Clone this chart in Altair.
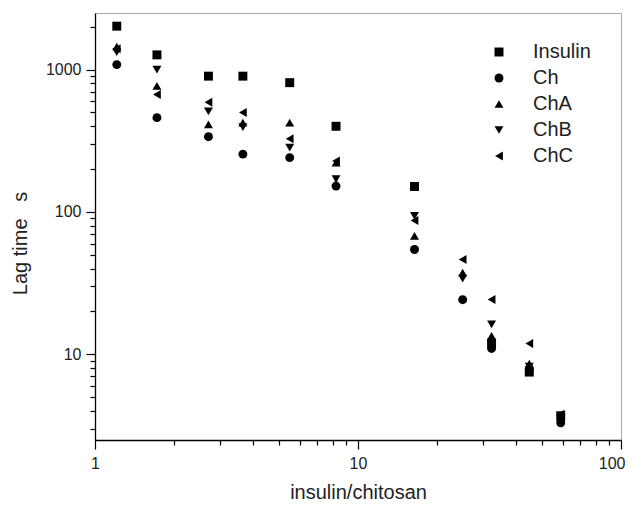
import altair as alt
import pandas as pd

# insulin/chitosan ratio (x)
ratio = [1.21, 1.72, 2.70, 3.65, 5.5, 8.25, 16.4, 25.0, 32.2, 44.8, 59.0]

# Lag time (s) per series (None = not visible in the picture)
insulin = [2020, 1270, 900, 900, 810, 400, 151, None, 12.0, 7.5, 3.7]
ch      = [1085, 460, 338, 255, 241, 152, 54.5, 24.2, 11.0, 7.9, 3.3]
cha     = [1450, 770, 412, 425, 425, 222, 68, 37.5, 13.5, 8.6, 3.6]
chb     = [1330, 1000, 510, 395, 283, 170, 94, 34, 16.2, 8.2, 3.5]
chc     = [1400, 668, 590, 500, 327, 228, 87, 46.4, 24.3, 11.9, 3.8]

series = ["Insulin", "Ch", "ChA", "ChB", "ChC"]
shapes = ["square", "circle", "triangle-up", "triangle-down", "triangle-left"]

x_ticks = [1, 2, 3, 4, 5, 6, 7, 8, 9, 10, 20, 30, 40, 50, 60, 70, 80, 90, 100]
y_ticks = [3, 4, 5, 6, 7, 8, 9, 10, 20, 30, 40, 50, 60, 70, 80, 90,
           100, 200, 300, 400, 500, 600, 700, 800, 900, 1000, 2000]

rows = []
for name, vals in zip(series, [insulin, ch, cha, chb, chc]):
    for xv, yv in zip(ratio, vals):
        if yv is not None:
            rows.append({"ratio": xv, "lag": yv, "series": name})
df = pd.DataFrame(rows)

x_major = "datum.value == 1 || datum.value == 10 || datum.value == 100"
y_major = "datum.value == 10 || datum.value == 100 || datum.value == 1000"

FONT = "Liberation Sans"
TXT = "#222222"

chart = (
    alt.Chart(df)
    .mark_point(filled=True, size=80, opacity=1)
    .encode(
        x=alt.X(
            "ratio:Q",
            scale=alt.Scale(type="log", domain=[1, 100], nice=False),
            axis=alt.Axis(
                values=x_ticks,
                format="d",
                labelExpr=f"({x_major}) ? datum.label : ''",
                labelOverlap=False,
                labelFlush=False,
                labelAlign={"condition": {"test": "datum.value == 100", "value": "right"}, "value": "center"},
                labelOffset={"condition": {"test": "datum.value == 100", "value": 4}, "value": 0},
                tickSize={"condition": {"test": x_major, "value": 9}, "value": 5},
                labelPadding=6,
                title="insulin/chitosan",
                titlePadding=11,
            ),
        ),
        y=alt.Y(
            "lag:Q",
            scale=alt.Scale(type="log", domain=[2.5, 2500], nice=False),
            axis=alt.Axis(
                values=y_ticks,
                format="d",
                labelExpr=f"({y_major}) ? datum.label : ''",
                labelOverlap=False,
                labelFlush=False,
                tickSize={"condition": {"test": y_major, "value": 9}, "value": 5},
                labelPadding=5,
                title="Lag time\u00a0\u00a0\u00a0s",
                titlePadding=15,
                titleY=230,
            ),
        ),
        shape=alt.Shape(
            "series:N",
            scale=alt.Scale(domain=series, range=shapes),
            legend=alt.Legend(
                title=None,
                orient="none",
                legendX=394,
                legendY=29,
                padding=0,
                rowPadding=6,
                labelOffset=24,
                labelFontSize=20,
                labelFont=FONT,
                labelColor=TXT,
                symbolSize=80,
                symbolFillColor="black",
                symbolStrokeColor="black",
            ),
        ),
        color=alt.value("black"),
    )
    .properties(
        width=526,
        height=427,
        autosize=alt.AutoSizeParams(type="none"),
        padding={"left": 87, "top": 5, "right": 5, "bottom": 63},
    )
    .configure_view(stroke="#aaaaaa", strokeWidth=1)
    .configure_axis(
        grid=False,
        domainColor="black",
        domainWidth=1.3,
        tickColor="black",
        tickWidth=1.2,
        labelFont=FONT,
        labelFontSize=16,
        labelColor=TXT,
        titleFont=FONT,
        titleFontSize=20,
        titleFontWeight="normal",
        titleColor=TXT,
    )
)

chart.save("out.html", embed_options={"renderer": "svg", "actions": False})
